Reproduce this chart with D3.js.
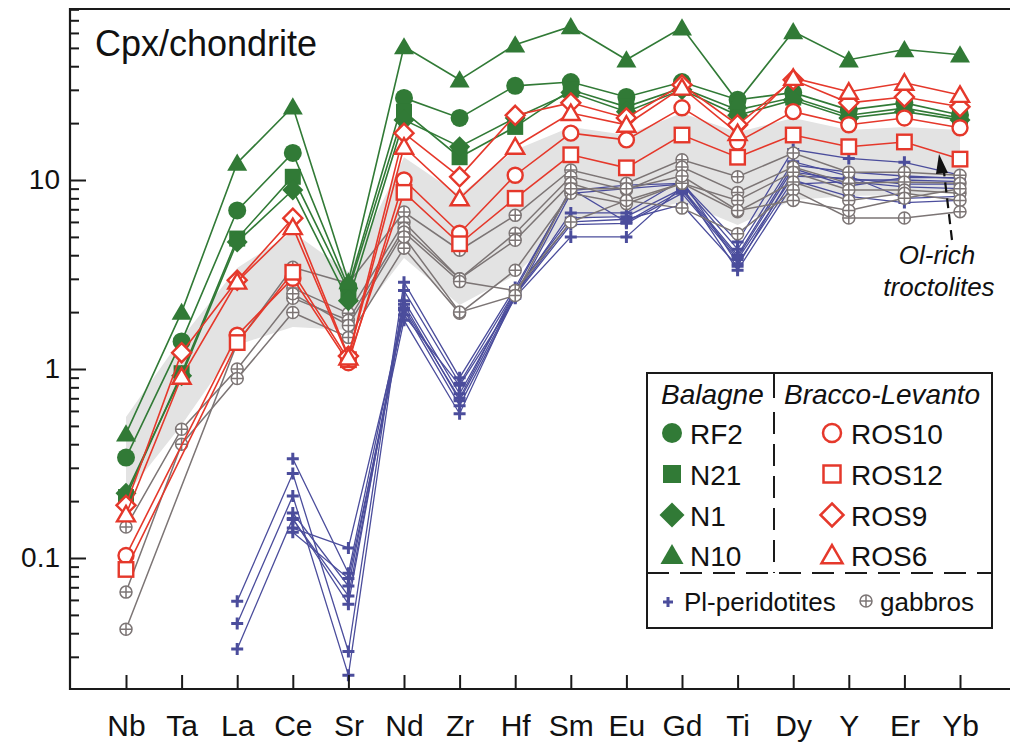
<!DOCTYPE html>
<html><head><meta charset="utf-8">
<script src="https://cdn.jsdelivr.net/npm/d3@7"></script>
<style>
body{margin:0;background:#fff}
svg{display:block}
text{font-family:"Liberation Sans",Arial,Helvetica,sans-serif;fill:#111}
</style>
</head><body>
<svg id="chart" width="1010" height="746"></svg>
<script>
// ---------- DATA ----------
const elements = ["Nb","Ta","La","Ce","Sr","Nd","Zr","Hf","Sm","Eu","Gd","Ti","Dy","Y","Er","Yb"];
const majorTicks = [0.1, 1, 10];
const majorTickLabels = ["0.1", "1", "10"];

// Balagne (green, filled)
const RF2 = [0.34, 1.40, 6.9, 13.9, 2.7, 27.2, 21.3, 31.5, 33, 27.5, 33, 26.6, 29, 23.5, 25.6, 22.1];
const N21 = [0.21, 0.95, 4.9, 10.4, 2.6, 23, 13.2, 19.1, 30, 24.4, 30.7, 23.5, 27.3, 22, 24, 21.3];
const N1  = [0.22, 0.92, 4.7, 8.85, 2.3, 20.8, 15, 21.3, 29, 23, 30, 22, 26.5, 21.3, 23, 20.8];
const N10 = [0.455, 2.0, 12.3, 24.4, 2.9, 50.8, 33.9, 52, 64.9, 43.3, 64, 26, 61, 43.3, 49, 46];

// Bracco-Levanto (red, open)
const ROS10 = [0.103, null, 1.51, 3.02, 1.08, 10.0, 5.23, 10.6, 17.7, 16.3, 24.1, 15.9, 23, 19.6, 21.3, 18.9];
const ROS12 = [0.087, null, 1.38, 3.25, 1.12, 8.6, 4.6, 8.0, 13.6, 11.6, 17.3, 13.2, 17.3, 15, 15.9, 12.9];
const ROS9  = [0.19, 1.22, 2.95, 6.28, 1.17, 17.7, 10.4, 22, 25.6, 21.3, 31.9, 19.6, 33.9, 25.6, 27.5, 24.4];
const ROS6  = [0.17, 0.91, 2.9, 5.63, 1.15, 15, 8.0, 15, 22.6, 19.6, 30.8, 17.7, 34.7, 29.3, 32.7, 28.2];

// Gabbros (grey)
const gabbro1 = [0.042, null, 1.37, 3.45, 2.84, 6.77, 4.25, 6.5, 11.3, 9.6, 12.8, 10.4, 13.9, 11.0, 11.0, 10.6];
const gabbro2 = [null, null, null, 2.68, 1.97, 5.98, 3.0, 5.23, 10.4, 8.85, 11.7, 8.6, 11.7, 9.6, 9.75, 9.6];
const gabbro3 = [0.146, 0.48, 1.0, 2.37, 1.81, 5.56, 3.0, 4.8, 9.6, 7.8, 9.6, 7.8, 11.0, 8.85, 8.85, 8.5];
const gabbro4 = [0.066, 0.40, 0.89, 1.99, 1.47, 4.36, 1.97, 3.33, 8.5, 7.5, 9.6, 6.8, 9.75, 7.8, 8.5, 7.8];
const gabbro5 = [null, null, null, 2.5, 1.7, 5.3, 2.9, 2.6, 6.0, 7.8, 7.1, 5.2, 8.85, 6.3, 6.3, 6.8];
const gabbro6 = [null, null, null, null, null, 5.0, 2.0, 2.45, 9.0, 9.0, 10.5, 6.9, 7.8, 6.9, 8.0, 9.0];

// Pl-peridotites (blue)
const perid1 = [null, null, 0.059, 0.28, 0.032, 2.88, 0.90, 2.7, 8.8, 9.4, 9.6, 4.7, 14.5, 13, 12.4, 10.6];
const perid2 = [null, null, 0.045, 0.213, 0.024, 2.6, 0.84, 2.6, 6.3, 6.4, 9.0, 4.0, 12, 11, 10.5, 10.2];
const perid3 = [null, null, 0.033, 0.162, 0.057, 2.3, 0.74, 2.5, 6.0, 6.2, 7.4, 3.5, 11, 10, 10, 9.8];
const perid4 = [null, null, null, 0.335, 0.083, 2.2, 0.68, 2.45, 5.8, 5.9, 8.5, 3.8, 10.5, 10.2, 9.5, 9.5];
const perid5 = [null, null, null, 0.173, 0.071, 2.05, 0.64, 2.4, 5.0, 5.0, 9.2, 3.33, 9.5, 9.8, 9.2, 9.0];
const perid6 = [null, null, null, 0.144, 0.113, 1.93, 0.82, 2.37, 8.5, 9.0, 9.5, 4.3, 12.5, 10.5, 8.0, 8.2];
const perid7 = [null, null, null, 0.137, 0.078, 1.81, 0.58, 2.5, 6.7, 6.7, 10, 3.6, 10, 8.2, 7.6, 7.8];
const perid8 = [null, null, null, 0.16, 0.063, 2.1, 0.70, 2.6, 9.0, 6.0, 8.8, 3.9, 11.5, 9.3, 10.3, 10.3];

// Grey field (Ol-rich troctolites)
const bandUpper = [0.557, 1.46, 3.42, 5.31, 3.26, 13.2, 8.33, 14.4, 19.1, 17.3, 22.6, 17.9, 21.3, 18.4, 19.1, 18.4];
const bandLower = [0.215, 0.506, 1.34, 1.67, 1.61, 3.87, 2.18, 3.14, 6.14, 6.53, 7.65, 5.78, 7.84, 8.23, 8.33, 8.65];

// ---------- STYLE ----------
const GREEN = "#317a36", RED = "#e5382b", BLUE = "#4b4d9c", GREY = "#7c7575", BAND = "#e3e3e3", AX = "#1a1a1a";
const FONT = '"Liberation Sans",Arial,Helvetica,sans-serif';

const svg = d3.select("#chart");
const pLeft = 70, pRight = 1010, pTop = 9, pBottom = 689;

const x = d3.scalePoint().domain(elements).range([126, 960]);
const y = d3.scaleLog().domain([0.02027, 80.32]).range([pBottom, pTop]);

// band
const bandData = elements.map((e, i) => ({e, lo: bandLower[i], hi: bandUpper[i]}));
svg.append("path")
  .datum(bandData)
  .attr("fill", BAND)
  .attr("d", d3.area().x(d => x(d.e)).y0(d => y(d.lo)).y1(d => y(d.hi)));

// helpers
function pts(vals) {
  return vals.map((v, i) => ({e: elements[i], v})).filter(d => d.v != null);
}
const line = d3.line().x(d => x(d.e)).y(d => y(d.v));

function marker(g, shape, cx, cy, o) {
  const s = o.size;
  let el;
  if (shape === "circle") {
    el = g.append("circle").attr("cx", cx).attr("cy", cy).attr("r", s / 2);
  } else if (shape === "square") {
    el = g.append("rect").attr("x", cx - s / 2).attr("y", cy - s / 2).attr("width", s).attr("height", s);
  } else if (shape === "diamond") {
    const h = s / 2;
    el = g.append("path").attr("d", `M${cx},${cy - h}L${cx + h},${cy}L${cx},${cy + h}L${cx - h},${cy}Z`);
  } else if (shape === "triangle") {
    const w = s, h = s * 0.86;
    el = g.append("path").attr("d", `M${cx},${cy - h * 0.55}L${cx + w / 2},${cy + h * 0.45}L${cx - w / 2},${cy + h * 0.45}Z`);
  } else if (shape === "oplus") {
    g.append("circle").attr("cx", cx).attr("cy", cy).attr("r", s / 2)
      .attr("fill", "#fff").attr("stroke", o.stroke).attr("stroke-width", o.sw);
    g.append("path").attr("d", `M${cx - s / 2},${cy}H${cx + s / 2}M${cx},${cy - s / 2}V${cy + s / 2}`)
      .attr("stroke", o.stroke).attr("stroke-width", o.sw).attr("fill", "none");
    return;
  } else if (shape === "plus") {
    g.append("path").attr("d", `M${cx - s / 2},${cy}H${cx + s / 2}M${cx},${cy - s / 2}V${cy + s / 2}`)
      .attr("stroke", o.stroke).attr("stroke-width", o.sw).attr("fill", "none");
    return;
  }
  el.attr("fill", o.fill).attr("stroke", o.stroke || "none").attr("stroke-width", o.sw || 0)
    .attr("stroke-linejoin", "miter");
}

function series(vals, shape, lineColor, lw, mo) {
  const g = svg.append("g");
  const p = pts(vals);
  g.append("path").datum(p).attr("fill", "none").attr("stroke", lineColor)
    .attr("stroke-width", lw).attr("d", line);
  p.forEach(d => marker(g, shape, x(d.e), y(d.v), mo));
}

// peridotites
[perid1, perid2, perid3, perid4, perid5, perid6, perid7, perid8].forEach(s =>
  series(s, "plus", BLUE, 1.3, {size: 12, stroke: BLUE, sw: 3}));
// gabbros
[gabbro1, gabbro2, gabbro3, gabbro4, gabbro5, gabbro6].forEach(s =>
  series(s, "oplus", GREY, 1.5, {size: 12, stroke: GREY, sw: 1.5}));
// Balagne
series(RF2, "circle", GREEN, 1.6, {size: 18, fill: GREEN});
series(N21, "square", GREEN, 1.6, {size: 16, fill: GREEN});
series(N1, "diamond", GREEN, 1.6, {size: 21, fill: GREEN});
series(N10, "triangle", GREEN, 1.6, {size: 20, fill: GREEN});
// Bracco-Levanto
series(ROS10, "circle", RED, 1.6, {size: 15, fill: "#fff", stroke: RED, sw: 2.4});
series(ROS12, "square", RED, 1.6, {size: 14.5, fill: "#fff", stroke: RED, sw: 2.4});
series(ROS9, "diamond", RED, 1.6, {size: 19, fill: "#fff", stroke: RED, sw: 2.4});
series(ROS6, "triangle", RED, 1.6, {size: 18, fill: "#fff", stroke: RED, sw: 2.4});

// ---------- AXES ----------
const minorTicks = [];
[0.01, 0.1, 1, 10].forEach(dec => { for (let k = 2; k <= 9; k++) { const v = +(dec * k).toPrecision(3); if (v > 0.02027 && v < 80.32) minorTicks.push(v); } });

const yMinor = svg.append("g").attr("transform", `translate(${pLeft},0)`)
  .call(d3.axisLeft(y).tickValues(minorTicks).tickSize(-9).tickSizeOuter(0).tickFormat(""));
const yMajor = svg.append("g").attr("transform", `translate(${pLeft},0)`)
  .call(d3.axisLeft(y).tickValues(majorTicks).tickSize(-16).tickSizeOuter(0).tickPadding(10)
    .tickFormat((d, i) => majorTickLabels[i]));
const xAxis = svg.append("g").attr("transform", `translate(0,${pBottom})`)
  .call(d3.axisBottom(x).tickSize(-14).tickSizeOuter(0).tickPadding(26));

[yMinor, yMajor, xAxis].forEach(a => {
  a.select(".domain").remove();
  a.selectAll(".tick line").attr("stroke", AX).attr("stroke-width", 2);
  a.selectAll("text").attr("fill", "#111").style("font-family", FONT);
});
yMajor.selectAll("text").style("font-size", "28px");
xAxis.selectAll("text").style("font-size", "30px");

// frame
svg.append("path").attr("fill", "none").attr("stroke", AX).attr("stroke-width", 2.2)
  .attr("d", `M${pRight},${pTop}H${pLeft}V${pBottom}H${pRight}`);

// title
svg.append("text").attr("x", 95).attr("y", 56).style("font-size", "36px").text("Cpx/chondrite");

// annotation
svg.append("text").attr("x", 937).attr("y", 264).attr("text-anchor", "middle")
  .style("font-size", "26px").style("font-style", "italic").text("Ol-rich");
svg.append("text").attr("x", 939).attr("y", 296).attr("text-anchor", "middle")
  .style("font-size", "26px").style("font-style", "italic").text("troctolites");
svg.append("line").attr("x1", 952).attr("y1", 240).attr("x2", 944).attr("y2", 172)
  .attr("stroke", "#111").attr("stroke-width", 2.2).attr("stroke-dasharray", "10,6");
svg.append("path").attr("d", "M939,154L948,173L936,174Z").attr("fill", "#111");

// ---------- LEGEND ----------
const lg = svg.append("g");
lg.append("rect").attr("x", 647).attr("y", 373).attr("width", 345).attr("height", 255)
  .attr("fill", "#fff").attr("stroke", AX).attr("stroke-width", 2);
lg.append("line").attr("x1", 774).attr("y1", 373).attr("x2", 774).attr("y2", 398)
  .attr("stroke", AX).attr("stroke-width", 2);
lg.append("line").attr("x1", 774).attr("y1", 412).attr("x2", 774).attr("y2", 573)
  .attr("stroke", AX).attr("stroke-width", 2).attr("stroke-dasharray", "22,10");
lg.append("line").attr("x1", 647).attr("y1", 573).attr("x2", 992).attr("y2", 573)
  .attr("stroke", AX).attr("stroke-width", 2).attr("stroke-dasharray", "22,11");

lg.append("text").attr("x", 661).attr("y", 404).style("font-size", "28px").style("font-style", "italic").text("Balagne");
lg.append("text").attr("x", 784).attr("y", 404).style("font-size", "28px").style("font-style", "italic").text("Bracco-Levanto");

const legGreen = [["RF2", "circle", 20], ["N21", "square", 18], ["N1", "diamond", 25], ["N10", "triangle", 23]];
const legRed = [["ROS10", "circle", 18], ["ROS12", "square", 17], ["ROS9", "diamond", 23], ["ROS6", "triangle", 21]];
const rowY = [433, 474, 515, 555];
legGreen.forEach((d, i) => {
  marker(lg, d[1], 672, rowY[i], {size: d[2], fill: GREEN});
  lg.append("text").attr("x", 690).attr("y", rowY[i] + 10.5).style("font-size", "28px").text(d[0]);
});
legRed.forEach((d, i) => {
  marker(lg, d[1], 832, rowY[i], {size: d[2], fill: "#fff", stroke: RED, sw: 2.5});
  lg.append("text").attr("x", 851).attr("y", rowY[i] + 10.5).style("font-size", "28px").text(d[0]);
});
marker(lg, "plus", 668, 602, {size: 10, stroke: BLUE, sw: 3});
lg.append("text").attr("x", 684).attr("y", 611).style("font-size", "26px").text("Pl-peridotites");
marker(lg, "oplus", 866, 601, {size: 12, stroke: GREY, sw: 1.5});
lg.append("text").attr("x", 880).attr("y", 611).style("font-size", "26px").text("gabbros");
</script>
</body></html>
